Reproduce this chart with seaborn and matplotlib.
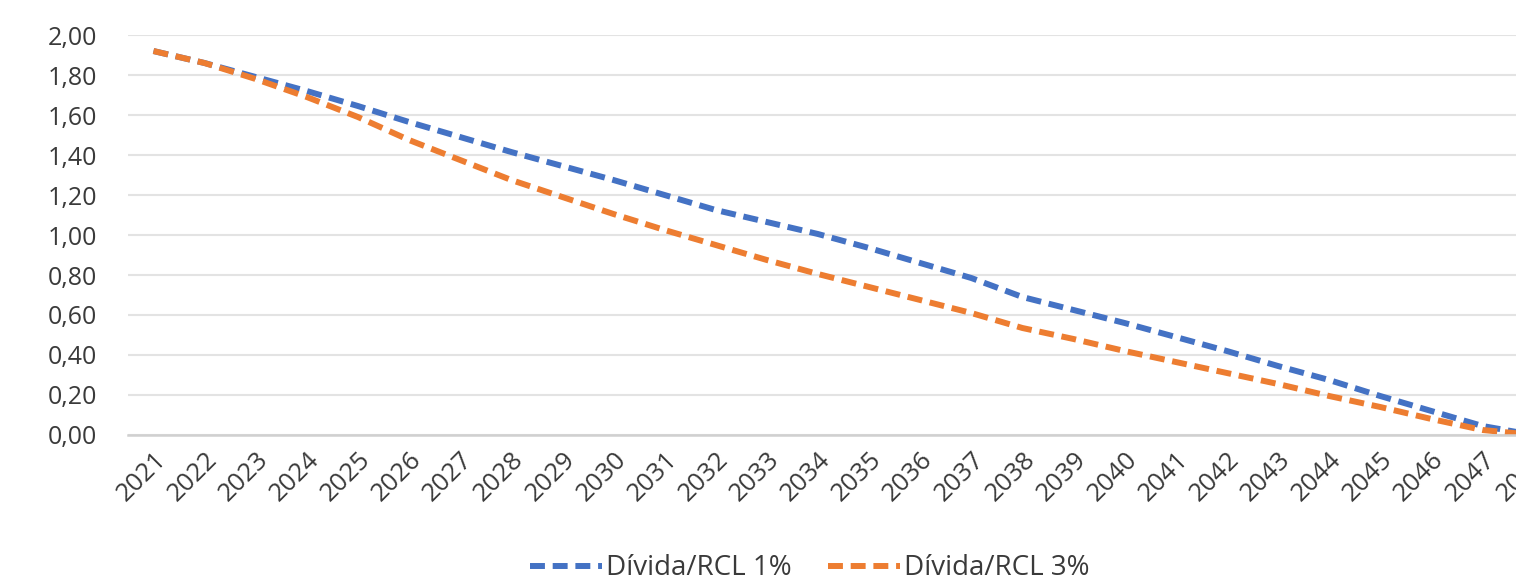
import pandas as pd
import matplotlib
matplotlib.use('Agg')
import matplotlib.pyplot as plt
import seaborn as sns

sns.set_style('white')
plt.rcParams['font.family'] = ['Open Sans', 'DejaVu Sans']

# Data
years = [str(y) for y in range(2021, 2049)]
divida_1 = [1.92, 1.86, 1.79, 1.72, 1.645, 1.565, 1.49, 1.415, 1.345, 1.275,
            1.20, 1.125, 1.065, 1.005, 0.935, 0.86, 0.785, 0.69, 0.625, 0.56,
            0.49, 0.42, 0.345, 0.275, 0.195, 0.12, 0.045, 0.0]
divida_3 = [1.92, 1.86, 1.78, 1.69, 1.59, 1.475, 1.375, 1.275, 1.19, 1.105,
            1.025, 0.95, 0.875, 0.805, 0.74, 0.675, 0.61, 0.535, 0.48, 0.42,
            0.365, 0.31, 0.255, 0.195, 0.14, 0.08, 0.025, 0.0]
series_names = ['Dívida/RCL 1%', 'Dívida/RCL 3%']
colors = ['#4472C4', '#ED7D31']

df = pd.DataFrame({
    'idx': list(range(len(years))) * 2,
    'valor': divida_1 + divida_3,
    'serie': [series_names[0]] * len(years) + [series_names[1]] * len(years),
})

fig = plt.figure(figsize=(15.16, 5.83), dpi=100)
ax = fig.add_axes([0.0844, 0.2539, 0.944, 0.686])

lw = 4.3
dash = (2.5, 1.3)
sns.lineplot(data=df, x='idx', y='valor', hue='serie', palette=colors,
             linewidth=lw, ax=ax, legend=False)
for line in ax.get_lines():
    line.set_dashes(dash)

ax.set_xlim(-0.5, 27.5)
ax.set_ylim(0, 2.0)
ax.set_yticks([i * 0.2 for i in range(11)])
ax.set_yticklabels([f'{i * 0.2:.2f}'.replace('.', ',') for i in range(11)])
ax.set_xticks(range(len(years)))
ax.set_xticklabels(years, rotation=45, ha='right', rotation_mode='anchor')
ax.set_xticks([i - 0.5 for i in range(len(years) + 1)], minor=True)
ax.tick_params(axis='x', which='major', length=0, pad=9, labelsize=18.5, labelcolor='#3a3a3a')
ax.tick_params(axis='x', which='minor', length=7, width=1.2, color='#d9d9d9')
ax.tick_params(axis='y', length=0, pad=22, labelsize=18, labelcolor='#3a3a3a')

ax.yaxis.grid(True, color='#e3e3e3', linewidth=1.5)
ax.set_axisbelow(True)
for s in ['top', 'right', 'left']:
    ax.spines[s].set_visible(False)
ax.spines['bottom'].set_color('#d0d0d0')
ax.spines['bottom'].set_linewidth(1.8)
ax.set_xlabel('')
ax.set_ylabel('')

handles = [plt.Line2D([], [], color=c, linewidth=lw, dashes=dash) for c in colors]
fig.legend(handles, series_names, loc='center', bbox_to_anchor=(0.534, 0.025),
           ncol=2, frameon=False, fontsize=20, handlelength=2.6,
           handletextpad=0.15, columnspacing=1.3, labelcolor='#3a3a3a')

fig.savefig('out.png', dpi=100)
